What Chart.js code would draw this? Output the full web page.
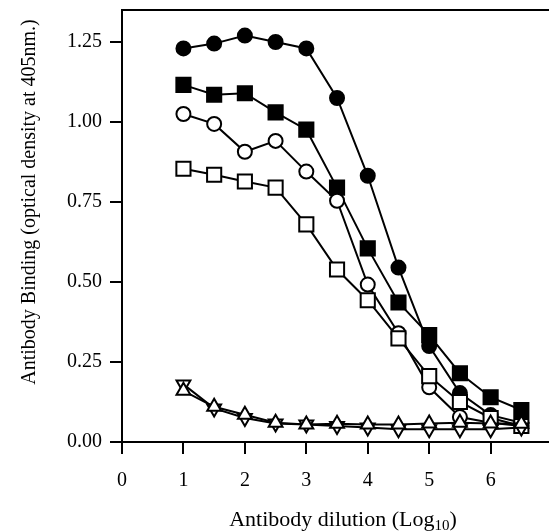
<!DOCTYPE html>
<html>
<head>
<meta charset="utf-8">
<script src="https://cdn.jsdelivr.net/npm/chart.js@4"></script>
<style>
  html, body { margin: 0; padding: 0; background: #fff; }
  #wrap { width: 549px; height: 531px; position: relative; }
</style>
</head>
<body>
<div id="wrap"><canvas id="bindingChart" width="549" height="531"></canvas></div>
<script>
// Dilution steps (Log10)
const dilutions = [1, 1.5, 2, 2.5, 3, 3.5, 4, 4.5, 5, 5.5, 6, 6.5];

// Optical density readings per series
const filledCircles = [1.23, 1.245, 1.27, 1.25, 1.23, 1.075, 0.832, 0.545, 0.30, 0.153, 0.084, 0.06];
const filledSquares = [1.116, 1.085, 1.09, 1.03, 0.976, 0.795, 0.605, 0.436, 0.334, 0.215, 0.14, 0.10];
const openCircles   = [1.025, 0.994, 0.907, 0.941, 0.845, 0.754, 0.492, 0.34, 0.171, 0.078, 0.06, 0.05];
const openSquares   = [0.854, 0.835, 0.814, 0.795, 0.68, 0.539, 0.443, 0.324, 0.206, 0.125, 0.075, 0.05];
const upTriangles   = [0.16, 0.11, 0.085, 0.06, 0.055, 0.057, 0.055, 0.055, 0.058, 0.06, 0.058, 0.057];
const downTriangles = [0.18, 0.105, 0.075, 0.058, 0.055, 0.05, 0.045, 0.04, 0.04, 0.04, 0.04, 0.045];

// Tick values
const xTicks = [0, 1, 2, 3, 4, 5, 6];
const yTicks = [0, 0.25, 0.5, 0.75, 1.0, 1.25];

function toPoints(values) {
    return values.map((v, i) => ({ x: dilutions[i], y: v }));
}

function makeSeries(values, style, fill, radius, rotation) {
    return {
        data: toPoints(values),
        borderColor: '#000',
        borderWidth: 2,
        pointStyle: style,
        pointRadius: radius,
        pointRotation: rotation || 0,
        pointBackgroundColor: fill,
        pointBorderColor: '#000',
        pointBorderWidth: 2,
        tension: 0,
        fill: false,
        clip: false
    };
}

const serif = 'Liberation Serif, Times New Roman, serif';

// Draws the top frame line and the axis titles
const framePlugin = {
    id: 'frame',
    afterDraw(chart) {
        const ctx = chart.ctx;
        const area = chart.chartArea;
        ctx.save();
        ctx.strokeStyle = '#000';
        ctx.lineWidth = 2;
        ctx.beginPath();
        ctx.moveTo(area.left - 1, area.top);
        ctx.lineTo(area.right, area.top);
        ctx.stroke();

        ctx.fillStyle = '#000';
        // y axis title
        ctx.save();
        ctx.translate(35, 202);
        ctx.rotate(-Math.PI / 2);
        ctx.font = '20px ' + serif;
        ctx.textAlign = 'center';
        ctx.textBaseline = 'alphabetic';
        ctx.fillText('Antibody Binding (optical density at 405nm.)', 0, 0);
        ctx.restore();

        // x axis title with subscript
        const main = 'Antibody dilution (Log';
        const sub = '10';
        const close = ')';
        ctx.textBaseline = 'alphabetic';
        ctx.textAlign = 'left';
        ctx.font = '22px ' + serif;
        const w1 = ctx.measureText(main).width;
        const w3 = ctx.measureText(close).width;
        ctx.font = '15px ' + serif;
        const w2 = ctx.measureText(sub).width;
        const total = w1 + w2 + w3;
        let x = 343 - total / 2;
        const base = 526;
        ctx.font = '22px ' + serif;
        ctx.fillText(main, x, base);
        x += w1;
        ctx.font = '15px ' + serif;
        ctx.fillText(sub, x, base + 4);
        x += w2;
        ctx.font = '22px ' + serif;
        ctx.fillText(close, x, base);
        ctx.restore();
    }
};

const chart = new Chart(document.getElementById('bindingChart'), {
    type: 'line',
    data: {
        datasets: [
            makeSeries(upTriangles, 'triangle', '#fff', 8, 0),
            makeSeries(downTriangles, 'triangle', '#fff', 8, 180),
            makeSeries(openSquares, 'rect', '#fff', 10),
            makeSeries(openCircles, 'circle', '#fff', 7),
            makeSeries(filledSquares, 'rect', '#000', 10),
            makeSeries(filledCircles, 'circle', '#000', 7)
        ]
    },
    options: {
        responsive: false,
        animation: false,
        layout: { autoPadding: false, padding: { top: 10, right: 0, left: 0, bottom: 0 } },
        plugins: {
            legend: { display: false },
            tooltip: { enabled: false }
        },
        scales: {
            x: {
                type: 'linear',
                min: 0,
                max: 6.95,
                afterBuildTicks: (scale) => {
                    scale.ticks = xTicks.map(v => ({ value: v }));
                },
                afterFit: (scale) => {
                    scale.height = 89;
                    scale.paddingLeft = 0;
                    scale.paddingRight = 0;
                },
                grid: {
                    drawOnChartArea: false,
                    drawTicks: true,
                    tickLength: 12,
                    color: '#000',
                    lineWidth: 2
                },
                border: { display: true, color: '#000', width: 2 },
                ticks: {
                    color: '#000',
                    font: { family: serif, size: 20 },
                    padding: 15,
                    maxRotation: 0
                }
            },
            y: {
                type: 'linear',
                min: 0,
                max: 1.35,
                afterBuildTicks: (scale) => {
                    scale.ticks = yTicks.map(v => ({ value: v }));
                },
                afterFit: (scale) => {
                    scale.width = 122;
                    scale.paddingTop = 0;
                    scale.paddingBottom = 0;
                },
                grid: {
                    drawOnChartArea: false,
                    drawTicks: true,
                    tickLength: 12,
                    color: '#000',
                    lineWidth: 2
                },
                border: { display: true, color: '#000', width: 2 },
                ticks: {
                    color: '#000',
                    font: { family: serif, size: 20 },
                    padding: 8,
                    callback: (v) => v.toFixed(2)
                }
            }
        }
    },
    plugins: [framePlugin]
});
</script>
</body>
</html>
